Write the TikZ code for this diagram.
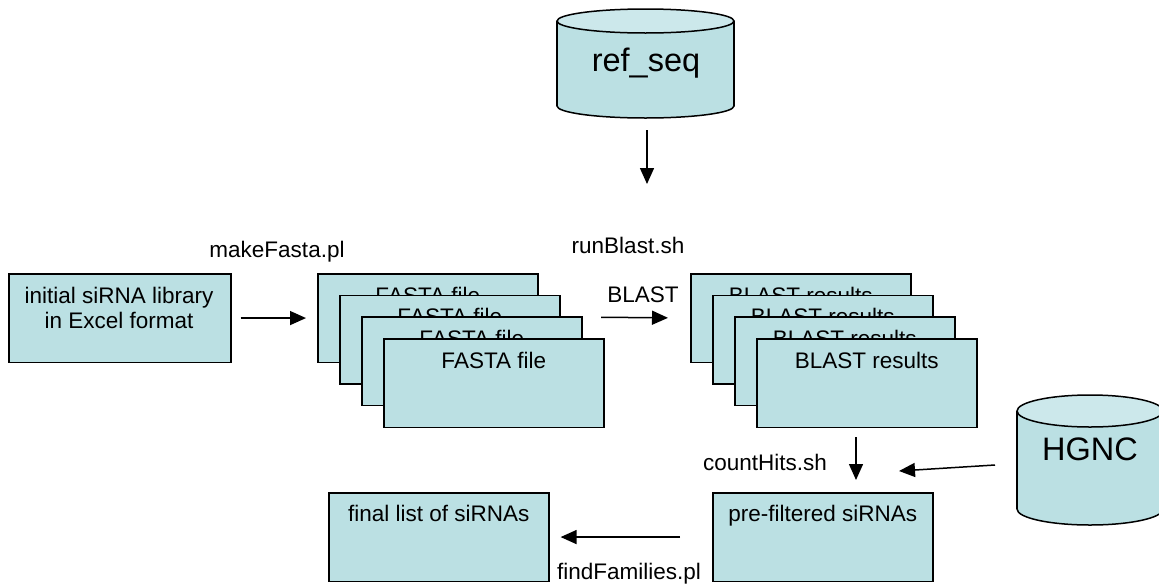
\documentclass[tikz,border=0pt]{standalone}
\usepackage{fontspec}
\setmainfont{Liberation Sans}
\usetikzlibrary{arrows.meta,calc}
\definecolor{boxfill}{RGB}{187,224,227}
\definecolor{topfill}{RGB}{204,232,235}
\begin{document}
\begin{tikzpicture}[x=1pt,y=-1pt,
  box/.style={draw=black, fill=boxfill, line width=1.6pt, minimum width=220pt, minimum height=88.5pt, inner sep=0pt, anchor=north west},
  txt/.style={font=\fontsize{22.5}{25}\selectfont, inner sep=0pt, anchor=base},
  bigtxt/.style={font=\fontsize{32.5}{36}\selectfont, inner sep=0pt, anchor=base},
  arr/.style={-{Triangle[length=16pt,width=14pt]}, line width=1.5pt},
  cylside/.style={draw=black, line width=1.5pt},
  cylbot/.style={draw=black, fill=boxfill, line width=1.5pt},
  cyltop/.style={draw=black, fill=topfill, line width=1.5pt}]
\useasboundingbox (0,0) rectangle (1159,584);

% ref_seq cylinder
\draw[cylbot] (645.5,106) ellipse [x radius=88.5pt, y radius=12pt];
\fill[boxfill] (557,21) rectangle (734,106);
\draw[cylside] (557,21) -- (557,106) (734,21) -- (734,106);
\draw[cyltop] (645.5,21) ellipse [x radius=88.5pt, y radius=12pt];
\node[bigtxt] (refseq) at (646,71) {ref\_seq};
\coordinate (refseqbot) at (647,118);
\coordinate (blastin) at (647,184);

% HGNC cylinder
\draw[cylbot] (1090,509) ellipse [x radius=73pt, y radius=16pt];
\fill[boxfill] (1017,411) rectangle (1163,509);
\draw[cylside] (1017,411) -- (1017,509) (1163,411) -- (1163,509);
\draw[cyltop] (1090,411) ellipse [x radius=73pt, y radius=16pt];
\node[bigtxt] (hgnc) at (1090,460) {HGNC};
\coordinate (hgncout) at (995,465);
\coordinate (hgncin) at (899,471);

% initial box
\node[box, minimum width=222pt] (init) at (8,273) {};
\node[txt] (initt1) at (119,303) {initial siRNA library};
\node[txt] (initt2) at (119,328) {in Excel format};

% FASTA stack
\node[box] (fasta1) at (317,273) {};
\node[txt] (fasta1t) at ([yshift=-30pt]fasta1.north) {FASTA file};
\node[box] (fasta2) at (339,294.5) {};
\node[txt] (fasta2t) at ([yshift=-30pt]fasta2.north) {FASTA file};
\node[box] (fasta3) at (361,316) {};
\node[txt] (fasta3t) at ([yshift=-30pt]fasta3.north) {FASTA file};
\node[box] (fasta4) at (383,338) {};
\node[txt] (fasta4t) at ([yshift=-30pt]fasta4.north) {FASTA file};

% BLAST stack
\node[box] (blast1) at (690,273) {};
\node[txt] (blast1t) at ([yshift=-30pt]blast1.north) {BLAST results};
\node[box] (blast2) at (712,294.5) {};
\node[txt] (blast2t) at ([yshift=-30pt]blast2.north) {BLAST results};
\node[box] (blast3) at (734,316) {};
\node[txt] (blast3t) at ([yshift=-30pt]blast3.north) {BLAST results};
\node[box] (blast4) at (756,338) {};
\node[txt] (blast4t) at ([yshift=-30pt]blast4.north) {BLAST results};

% bottom boxes
\node[box] (final) at (328,492) {};
\node[txt] (finalt) at ([yshift=-29pt]final.north) {final list of siRNAs};
\node[box] (prefilt) at (712,492) {};
\node[txt] (prefiltt) at ([yshift=-29pt]prefilt.north) {pre-filtered siRNAs};

% labels
\node[txt] (makefasta) at (277,257) {makeFasta.pl};
\node[txt] (runblast) at (628,253) {runBlast.sh};
\node[txt] (blastlbl) at (643,302) {BLAST};
\node[txt] (counthits) at (765,470) {countHits.sh};
\node[txt] (findfam) at (629,579) {findFamilies.pl};

% connectors
\coordinate (bstart) at (601,317.25);
\coordinate (chs) at (856,437);
\coordinate (che) at (856,480);
\draw[arr, shorten <=12pt] (refseqbot) -- (blastin);
\draw[arr, shorten <=9pt, shorten >=11pt] (init.east) -- (fasta1.west);
\draw[arr, shorten >=22pt] (bstart) -- (blast1.west);
\draw[arr] (chs) -- (che);
\draw[arr] (hgncout) -- (hgncin);
\draw[arr, shorten <=32pt, shorten >=11pt] (prefilt.west) -- (final.east);
\end{tikzpicture}
\end{document}
